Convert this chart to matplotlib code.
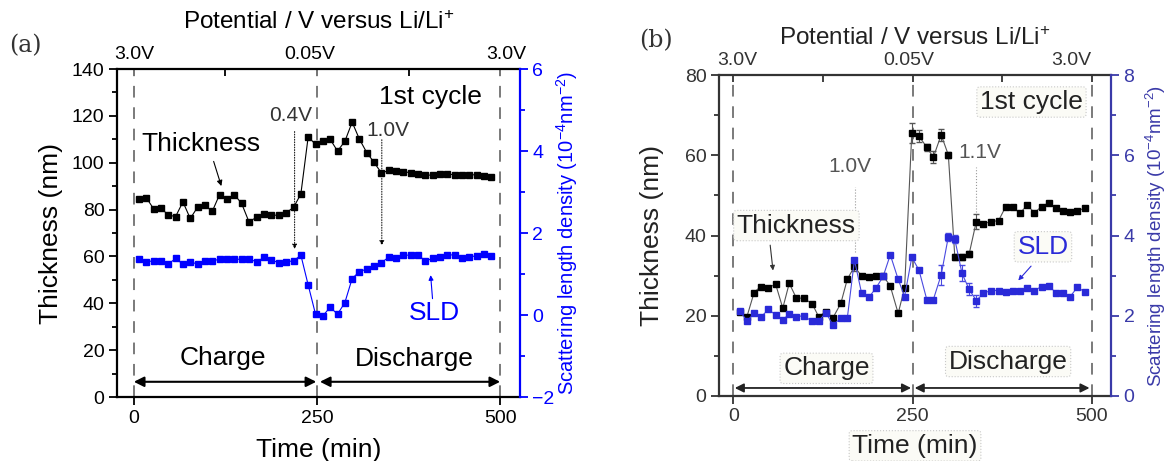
import matplotlib
matplotlib.use("Agg")
import matplotlib.pyplot as plt
import numpy as np

plt.rcParams['font.family'] = ['Liberation Sans', 'DejaVu Sans']
plt.rcParams['mathtext.fontset'] = 'custom'
plt.rcParams['mathtext.rm'] = 'Liberation Sans'
plt.rcParams['mathtext.it'] = 'Liberation Sans:italic'

# ---------------- Panel (a) data ----------------
a_time = [7, 17, 27, 37, 47, 57, 67, 77, 87, 97, 107, 117, 127, 137, 147, 157, 168, 178,
          187, 198, 208, 218, 228, 238, 248, 258, 268, 278, 288, 298, 308, 318, 328, 338,
          348, 358, 368, 378, 388, 398, 408, 418, 428, 438, 448, 458, 468, 478, 488]
a_thick = [84.6, 85.1, 80.3, 80.6, 77.7, 77.0, 83.3, 76.2, 81.0, 81.9, 79.2, 86.4, 84.6,
           86.4, 82.7, 74.9, 76.7, 78.2, 77.6, 77.6, 78.7, 80.9, 86.7, 111.1, 107.8, 109.1,
           110.0, 105.0, 109.1, 117.3, 110.0, 104.3, 100.1, 95.6, 96.7, 96.3, 96.2, 95.7,
           95.4, 94.6, 94.8, 95.0, 95.1, 94.9, 94.9, 94.9, 94.8, 94.5, 94.1]
a_sld = [1.36, 1.30, 1.32, 1.32, 1.24, 1.38, 1.24, 1.30, 1.24, 1.32, 1.32, 1.36, 1.36,
         1.36, 1.36, 1.36, 1.30, 1.41, 1.34, 1.28, 1.30, 1.32, 1.46, 0.73, 0.02, -0.02,
         0.19, 0.02, 0.30, 0.89, 1.06, 1.12, 1.20, 1.28, 1.41, 1.38, 1.46, 1.46, 1.46,
         1.32, 1.38, 1.41, 1.46, 1.47, 1.38, 1.41, 1.45, 1.49, 1.44]

# ---------------- Panel (b) data ----------------
b_time = [9, 19, 29, 38, 49, 59, 69, 78, 88, 98, 110, 119, 129, 139, 150, 159, 169, 179,
          189, 199, 209, 219, 230, 239, 249, 259, 270, 279, 290, 300, 309, 319, 329, 339,
          349, 359, 370, 380, 390, 400, 410, 420, 430, 440, 450, 460, 470, 480, 490]
b_thick = [21.0, 19.8, 25.8, 27.3, 27.0, 27.9, 21.9, 28.1, 24.4, 24.4, 23.0, 19.8, 21.0,
           19.5, 23.1, 29.1, 32.3, 29.9, 29.6, 30.0, 30.0, 27.4, 20.6, 27.0, 65.5, 64.8,
           62.0, 59.5, 65.1, 60.1, 34.7, 34.6, 35.4, 43.5, 42.9, 43.5, 43.7, 47.2, 47.0,
           45.6, 47.6, 45.7, 47.2, 48.2, 46.8, 46.2, 46.0, 46.2, 46.8]
b_thick_err = [0, 0, 0, 0, 0, 0, 0, 0, 0, 0, 0, 0, 0, 0, 0, 0, 1.2, 0, 0, 0, 0, 0, 0, 0,
               2.5, 1.5, 0.8, 1.5, 1.5, 0.8, 0.8, 0.8, 0.8, 1.8, 0, 0, 0, 0, 0, 0, 0, 0,
               0, 0, 0, 0, 0, 0, 0]
b_sld = [2.12, 1.87, 2.06, 1.96, 2.16, 2.02, 1.90, 2.04, 1.98, 2.00, 1.86, 1.86, 2.08,
         1.77, 1.94, 1.94, 3.39, 2.56, 2.46, 2.69, 2.98, 3.52, 2.91, 2.48, 3.46, 3.14,
         2.40, 2.40, 3.02, 3.97, 3.91, 3.06, 2.66, 2.38, 2.56, 2.63, 2.63, 2.60, 2.63,
         2.63, 2.69, 2.63, 2.73, 2.74, 2.58, 2.58, 2.48, 2.71, 2.60]
b_sld_err = [0, 0, 0, 0, 0, 0, 0, 0, 0, 0, 0, 0, 0, 0, 0, 0, 0, 0, 0, 0, 0, 0, 0, 0,
             0, 0, 0.05, 0.05, 0.25, 0.1, 0.1, 0.2, 0.15, 0.15, 0, 0, 0, 0, 0, 0, 0, 0,
             0, 0, 0, 0, 0, 0, 0]

boundaries = [0, 250, 500]
top_labels = ['3.0V', '0.05V', '3.0V']
top_label_pos_a = [0, 240, 509]
top_label_pos_b = [6, 245, 471]

fig = plt.figure(figsize=(11.71, 4.61), dpi=100)

BLUE_A = '#0000ff'
BLUE_B = '#2a2ad8'
BLUE_B_AX = '#3a3aa8'


def style_axes(ax, ax2, ymax, ymin2, ymax2, ymaj, ymin_step, y2maj, y2min, bluecol,
               spinecol, tickcol):
    ax.set_xlim(-23, 527)
    ax.set_ylim(0, ymax)
    ax2.set_ylim(ymin2, ymax2)
    ax.set_xticks([0, 250, 500])
    ax.set_yticks(np.arange(0, ymax + 1, ymaj))
    ax.set_yticks(np.arange(0, ymax + 1, ymin_step), minor=True)
    ax2.set_yticks(np.arange(ymin2, ymax2 + 0.01, y2maj))
    ax2.set_yticks(np.arange(ymin2, ymax2 + 0.01, y2min), minor=True)
    ax.tick_params(axis='both', which='major', direction='out', length=6, width=1.3,
                   labelsize=14, colors=tickcol, pad=3)
    ax.tick_params(axis='y', which='minor', direction='out', length=3.5, width=1.3,
                   colors=tickcol)
    ax2.tick_params(axis='y', which='major', direction='out', length=6, width=1.3,
                    labelsize=14, colors=bluecol, pad=3)
    ax2.tick_params(axis='y', which='minor', direction='out', length=3.5, width=1.3,
                    colors=bluecol)
    for s in ['left', 'bottom', 'top']:
        ax.spines[s].set_linewidth(1.6)
        ax.spines[s].set_color(spinecol)
    ax.spines['right'].set_visible(False)
    for s in ['left', 'bottom', 'top']:
        ax2.spines[s].set_visible(False)
    ax2.spines['right'].set_linewidth(1.6)
    ax2.spines['right'].set_color(bluecol)
    sec = ax.secondary_xaxis('top')
    sec.set_xticks([0, 125, 250, 375, 500])
    sec.set_xticklabels([])
    sec.tick_params(direction='in', length=5, width=1.3, colors=spinecol)
    sec.spines['top'].set_visible(False)
    for xb in boundaries:
        ax.axvline(xb, color='#7a7a7a', lw=1.4, ls=(0, (6, 5)), zorder=1)


# ================= Panel (a) =================
axa = fig.add_axes([0.0999, 0.1388, 0.3441, 0.7115])
axa2 = axa.twinx()
style_axes(axa, axa2, 140, -2, 6, 20, 10, 2, 1, BLUE_A, 'black', 'black')

axa.plot(a_time, a_thick, color='black', lw=0.8, marker='s', ms=4.8, mfc='black',
         mec='black', zorder=5)
axa2.plot(a_time, a_sld, color=BLUE_A, lw=0.8, marker='s', ms=4.8, mfc=BLUE_A,
          mec=BLUE_A, zorder=5)

axa.set_xlabel('Time (min)', fontsize=19, labelpad=8)
axa.set_ylabel('Thickness (nm)', fontsize=19)
axa.yaxis.set_label_coords(-0.135, 0.5)
axa2.set_ylabel(r'Scattering length density (10$^{-4}$nm$^{-2}$)', fontsize=14.5,
                color=BLUE_A)
axa2.yaxis.set_label_coords(1.085, 0.5)

for xp, lab in zip(top_label_pos_a, top_labels):
    axa.text(xp, 1.018, lab, transform=axa.get_xaxis_transform(), ha='center',
             va='bottom', fontsize=14)
axa.text(0.5, 1.143, r'Potential / V versus Li/Li$^{+}$', transform=axa.transAxes,
         ha='center', va='center', fontsize=17.5)
fig.text(0.022, 0.9, '(a)', fontsize=17, family='DejaVu Serif', ha='center',
         va='center', color='#333333')

axa.text(92, 108, 'Thickness', fontsize=19, ha='center', va='center')
axa.annotate('', xy=(120.6, 88.9), xytext=(107.8, 101.7),
             arrowprops=dict(arrowstyle='-|>', color='black', lw=0.8, mutation_scale=8))
axa.text(405, 128, '1st cycle', fontsize=19, ha='center', va='center')
axa.text(214, 120.3, '0.4V', fontsize=15, ha='center', va='center', color='#333333')
axa.annotate('', xy=(219.5, 62), xytext=(219.5, 114.5),
             arrowprops=dict(arrowstyle='-|>', color='black', lw=0.7, ls=':',
                             mutation_scale=7))
axa.text(347, 113.8, '1.0V', fontsize=15, ha='center', va='center', color='#333333')
axa.annotate('', xy=(338.5, 63.5), xytext=(338.5, 111),
             arrowprops=dict(arrowstyle='-|>', color='black', lw=0.7, ls=':',
                             mutation_scale=7))
axa.text(410, 35.8, 'SLD', fontsize=19, ha='center', va='center', color=BLUE_A)
axa.annotate('', xy=(404.8, 53.2), xytext=(408, 40.8),
             arrowprops=dict(arrowstyle='-|>', color=BLUE_A, lw=0.8, mutation_scale=7))
axa.text(121.6, 16.7, 'Charge', fontsize=19, ha='center', va='center')
axa.text(383, 16.2, 'Discharge', fontsize=19, ha='center', va='center')
axa.annotate('', xy=(249, 6.5), xytext=(0, 6.5),
             arrowprops=dict(arrowstyle='<|-|>', color='black', lw=1.5, mutation_scale=15,
                             shrinkA=0, shrinkB=0))
axa.annotate('', xy=(500, 6.5), xytext=(254, 6.5),
             arrowprops=dict(arrowstyle='<|-|>', color='black', lw=1.5, mutation_scale=15,
                             shrinkA=0, shrinkB=0))

# ================= Panel (b) =================
GRAYTXT = '#333333'
box = dict(boxstyle='round,pad=0.12', fc='#fbfbf6', ec='#c8c8c8', ls=':', lw=0.8)

axb = fig.add_axes([0.614, 0.141, 0.3348, 0.696])
axb2 = axb.twinx()
style_axes(axb, axb2, 80, 0, 8, 20, 10, 2, 1, BLUE_B_AX, '#333333', GRAYTXT)
axb.set_xlim(-20, 527)

axb.errorbar(b_time, b_thick, yerr=b_thick_err, color='#555555', lw=0.8, marker='s',
             ms=4.3, mfc='black', mec='black', ecolor='#555555', elinewidth=0.8,
             capsize=2, zorder=5)
axb2.errorbar(b_time, b_sld, yerr=b_sld_err, color='#4a4ae0', lw=0.8, marker='s',
              ms=4.3, mfc=BLUE_B, mec=BLUE_B, ecolor='#4a4ae0', elinewidth=0.8,
              capsize=2, zorder=5)

axb.set_xlabel('Time (min)', fontsize=19, labelpad=6, color='#222222', bbox=box)
axb.set_ylabel('Thickness (nm)', fontsize=19, color='#222222')
axb.yaxis.set_label_coords(-0.14, 0.5)
axb2.set_ylabel(r'Scattering length density (10$^{-4}$nm$^{-2}$)', fontsize=13.5,
                color=BLUE_B_AX)
axb2.yaxis.set_label_coords(1.085, 0.5)

for xp, lab in zip(top_label_pos_b, top_labels):
    axb.text(xp, 1.018, lab, transform=axb.get_xaxis_transform(), ha='center',
             va='bottom', fontsize=14, color=GRAYTXT)
axb.text(0.5, 1.115, r'Potential / V versus Li/Li$^{+}$', transform=axb.transAxes,
         ha='center', va='center', fontsize=17.5, color='#222222')
fig.text(0.56, 0.912, '(b)', fontsize=17, family='DejaVu Serif', ha='center',
         va='center', color='#333333')

axb.text(416, 73.3, '1st cycle', fontsize=19, ha='center', va='center', color='#222222',
         bbox=box)
axb.text(88, 42.5, 'Thickness', fontsize=19, ha='center', va='center', color='#222222',
         bbox=box)
axb.annotate('', xy=(55.8, 30.6), xytext=(51, 38.3),
             arrowprops=dict(arrowstyle='-|>', color='#333333', lw=0.8, mutation_scale=7))
axb.text(162.7, 57.2, '1.0V', fontsize=15, ha='center', va='center', color='#555555')
axb.plot([169.6, 169.6], [36, 52], color='#999999', lw=0.8, ls=':')
axb.text(344, 60.6, '1.1V', fontsize=15, ha='center', va='center', color='#555555')
axb.plot([338.4, 338.4], [46, 57], color='#999999', lw=0.8, ls=':')
axb.text(432, 37.2, 'SLD', fontsize=19, ha='center', va='center', color=BLUE_B,
         bbox=box)
axb.annotate('', xy=(395, 28.3), xytext=(418, 32.9),
             arrowprops=dict(arrowstyle='-|>', color=BLUE_B, lw=0.8, mutation_scale=7))
axb.text(130, 6.9, 'Charge', fontsize=19, ha='center', va='center', color='#222222',
         bbox=box)
axb.text(383.4, 8.6, 'Discharge', fontsize=19, ha='center', va='center',
         color='#222222', bbox=box)
axb.annotate('', xy=(248, 2.0), xytext=(2, 2.0),
             arrowprops=dict(arrowstyle='<|-|>', color='#222222', lw=1.3,
                             mutation_scale=13, shrinkA=0, shrinkB=0))
axb.annotate('', xy=(497, 2.0), xytext=(253, 2.0),
             arrowprops=dict(arrowstyle='<|-|>', color='#222222', lw=1.3,
                             mutation_scale=13, shrinkA=0, shrinkB=0))

fig.savefig('out.png', dpi=100)
